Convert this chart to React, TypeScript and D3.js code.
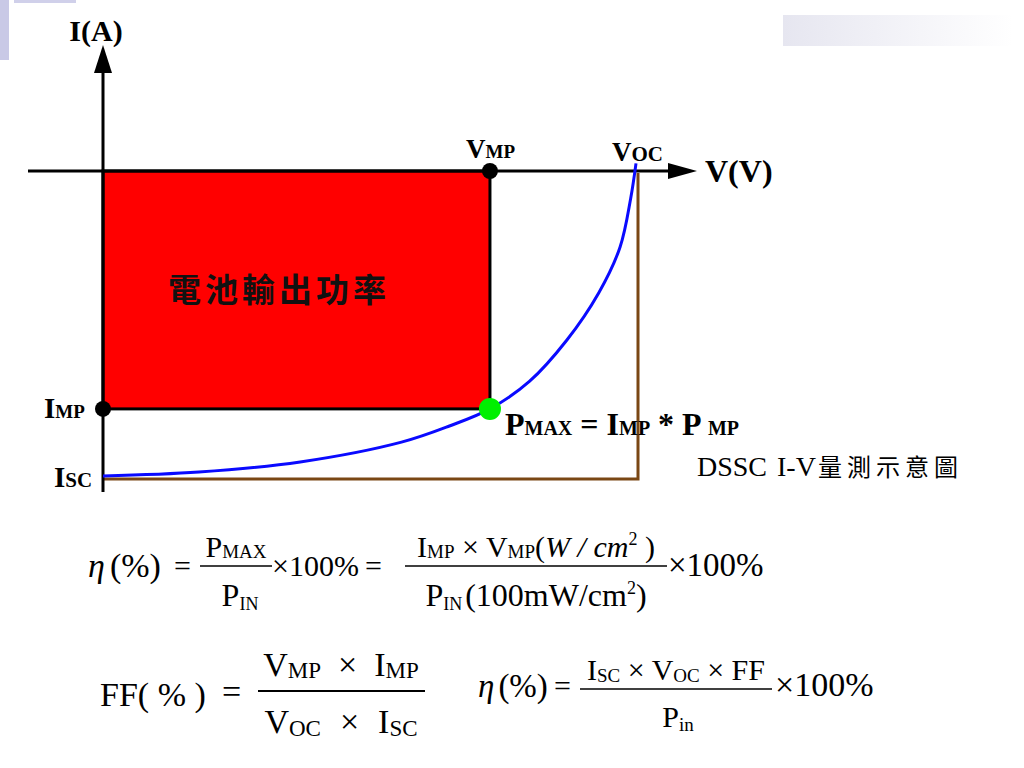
import React from 'react';
import * as d3 from 'd3';

// I-V curve (normalised: V / Voc, |I| / Isc)
const voltage = [0, 0.18, 0.37, 0.56, 0.65, 0.726, 0.8, 0.87, 0.93, 0.97, 0.99, 1.0];
const current = [1.0, 0.987, 0.954, 0.889, 0.836, 0.78, 0.69, 0.555, 0.40, 0.25, 0.09, -0.025];
const VMP = 0.726;
const IMP = 0.78;
const VOC = 1.0;
const ISC = 1.0;

const SERIF = '"Liberation Serif", "DejaVu Serif", serif';
const CJK = '"Noto Sans CJK TC", "Noto Sans CJK SC", sans-serif';

const x = d3.scaleLinear().domain([0, 1]).range([103, 636]);
const y = d3.scaleLinear().domain([0, 1]).range([171, 476]);

type Run = { t: string; s?: number; sh?: number; it?: boolean; ff?: string; ls?: number; dx?: number };

// runs of text with absolute baseline shifts (sh, px downward)
const Runs = ({ runs }: { runs: Run[] }) => {
  let prev = 0;
  return (
    <>
      {runs.map((r, i) => {
        const sh = r.sh || 0;
        const dy = sh - prev;
        prev = sh;
        return (
          <tspan key={i} fontSize={r.s} dy={dy || undefined} dx={r.dx} fontStyle={r.it ? 'italic' : undefined}
            fontFamily={r.ff} letterSpacing={r.ls}>{r.t}</tspan>
        );
      })}
    </>
  );
};

const T = (props: any) => <text fontFamily={SERIF} fill="#000" {...props} />;

export default function App() {
  const pts = voltage.map((v, i) => [x(v), y(current[i])] as [number, number]);
  const line = d3.line().curve(d3.curveCatmullRom.alpha(0.5))(pts) || '';

  return (
    <svg width={1024} height={768} style={{ position: 'absolute', left: 0, top: 0, background: '#fff' }}>
      <defs>
        <linearGradient id="gbar" x1="0" x2="1" y1="0" y2="0">
          <stop offset="0" stopColor="#e6e6f0" />
          <stop offset="1" stopColor="#ffffff" />
        </linearGradient>
      </defs>
      {/* decorations */}
      <rect x={0} y={0} width={9} height={60} fill="#c9c9e6" />
      <rect x={14} y={0} width={62} height={3} fill="#d0d0ea" />
      <rect x={783} y={15} width={230} height={31} fill="url(#gbar)" />

      {/* red power rectangle */}
      <rect x={x(0)} y={y(0)} width={x(VMP) - x(0)} height={y(IMP) - y(0)} fill="#ff0000"
        stroke="#000" strokeWidth={3} />
      <text x={168} y={302} fontFamily={CJK} fontWeight="bold" fontSize={33} letterSpacing={4} fill="#111">電池輸出功率</text>

      {/* brown Isc x Voc box */}
      <path d={`M${x(0)},${y(ISC) + 3}H${x(VOC) + 2}V${y(0) + 2}`} fill="none" stroke="#7a4714" strokeWidth={3} />

      {/* axes */}
      <line x1={x(0)} x2={x(0)} y1={70} y2={492} stroke="#000" strokeWidth={3} />
      <path d={`M${x(0)},45L${x(0) - 9},73L${x(0) + 9},73Z`} fill="#000" />
      <line x1={28} x2={670} y1={y(0)} y2={y(0)} stroke="#000" strokeWidth={3} />
      <path d={`M697,${y(0)}L668,${y(0) - 8}L668,${y(0) + 8}Z`} fill="#000" />

      {/* I-V curve */}
      <path d={line} fill="none" stroke="#0a0aff" strokeWidth={3} />

      {/* points */}
      <circle cx={x(VMP)} cy={y(0)} r={8} fill="#000" />
      <circle cx={x(0)} cy={y(IMP)} r={8} fill="#000" />
      <circle cx={x(VMP)} cy={y(IMP)} r={11} fill="#00f000" />

      {/* axis labels */}
      <T x={96} y={41} textAnchor="middle" fontWeight="bold" fontSize={30}>I(A)</T>
      <T x={705} y={182} fontWeight="bold" fontSize={32}>V(V)</T>
      <T x={466} y={158} fontWeight="bold" fontSize={27}><Runs runs={[{ t: 'V' }, { t: 'MP', s: 19 }]} /></T>
      <T x={612} y={161} fontWeight="bold" fontSize={27}><Runs runs={[{ t: 'V' }, { t: 'OC', s: 21 }]} /></T>
      <T x={44} y={418} fontWeight="bold" fontSize={29}><Runs runs={[{ t: 'I' }, { t: 'MP', s: 19 }]} /></T>
      <T x={54} y={487} fontWeight="bold" fontSize={29}><Runs runs={[{ t: 'I' }, { t: 'SC', s: 21 }]} /></T>
      <T x={505} y={435} fontWeight="bold" fontSize={32}>
        <Runs runs={[{ t: 'P' }, { t: 'MAX', s: 20 }, { t: ' = I' }, { t: 'MP', s: 20 }, { t: ' * P ' }, { t: 'MP', s: 20 }]} />
      </T>
      <T x={697} y={476} fontSize={28}>
        <Runs runs={[{ t: 'DSSC' }, { t: 'I-V', dx: 10 }, { t: '量測示意圖', ff: CJK, s: 24, ls: 5, dx: 2 }]} />
      </T>

      {/* formula 1 */}
      <g fontSize={30}>
        <T x={88} y={577} fontSize={34}><Runs runs={[{ t: 'η', it: true }, { t: '(%)', dx: 5 }]} /></T>
        <T x={174} y={576}>=</T>
        <T x={236} y={557} textAnchor="middle">
          <Runs runs={[{ t: 'P' }, { t: 'MAX', s: 19, sh: 1 }]} />
        </T>
        <line x1={200} x2={272} y1={566} y2={566} stroke="#000" strokeWidth={1.5} />
        <T x={240} y={606} fontSize={32} textAnchor="middle">
          <Runs runs={[{ t: 'P' }, { t: 'IN', s: 18, sh: 4 }]} />
        </T>
        <T x={272} y={576}>×100%</T>
        <T x={365} y={576}>=</T>
        <T x={536} y={557} textAnchor="middle">
          <Runs runs={[{ t: 'I' }, { t: 'MP', s: 19, sh: 1 }, { t: ' × V' }, { t: 'MP', s: 19, sh: 1 }, { t: '(' },
            { t: 'W / cm', it: true }, { t: '2', s: 18, sh: -12 }, { t: ' )' }]} />
        </T>
        <line x1={405} x2={667} y1={566} y2={566} stroke="#000" strokeWidth={1.5} />
        <T x={536} y={606} fontSize={32} textAnchor="middle">
          <Runs runs={[{ t: 'P' }, { t: 'IN', s: 18, sh: 4 }, { t: '(100mW/cm', dx: 3 }, { t: '2', s: 18, sh: -12 }, { t: ')' }]} />
        </T>
        <T x={668} y={576} fontSize={33}>×100%</T>
      </g>

      {/* formula 2 */}
      <g fontSize={34}>
        <T x={100} y={706}>FF( % )</T>
        <T x={222} y={703}>=</T>
        <T x={341} y={676} textAnchor="middle">
          <Runs runs={[{ t: 'V' }, { t: 'MP', s: 23, sh: 2 }, { t: '×', dx: 17, sh: 0 }, { t: 'I', dx: 17 }, { t: 'MP', s: 23, sh: 2 }]} />
        </T>
        <line x1={258} x2={425} y1={691} y2={691} stroke="#000" strokeWidth={2} />
        <T x={341} y={733} textAnchor="middle">
          <Runs runs={[{ t: 'V' }, { t: 'OC', s: 23, sh: 3 }, { t: '×', dx: 19, sh: 0 }, { t: 'I', dx: 19 }, { t: 'SC', s: 23, sh: 3 }]} />
        </T>
      </g>

      {/* formula 3 */}
      <g fontSize={30}>
        <T x={478} y={697} fontSize={33}><Runs runs={[{ t: 'η', it: true }, { t: '(%)', dx: 4 }]} /></T>
        <T x={554} y={696}>=</T>
        <T x={676} y={680} textAnchor="middle">
          <Runs runs={[{ t: 'I' }, { t: 'SC', s: 19, sh: 2 }, { t: ' × V' }, { t: 'OC', s: 19, sh: 2 }, { t: ' × FF' }]} />
        </T>
        <line x1={580} x2={772} y1={689} y2={689} stroke="#000" strokeWidth={1.5} />
        <T x={678} y={727} textAnchor="middle">
          <Runs runs={[{ t: 'P' }, { t: 'in', s: 19, sh: 4 }]} />
        </T>
        <T x={775} y={696} fontSize={34}>×100%</T>
      </g>
    </svg>
  );
}
